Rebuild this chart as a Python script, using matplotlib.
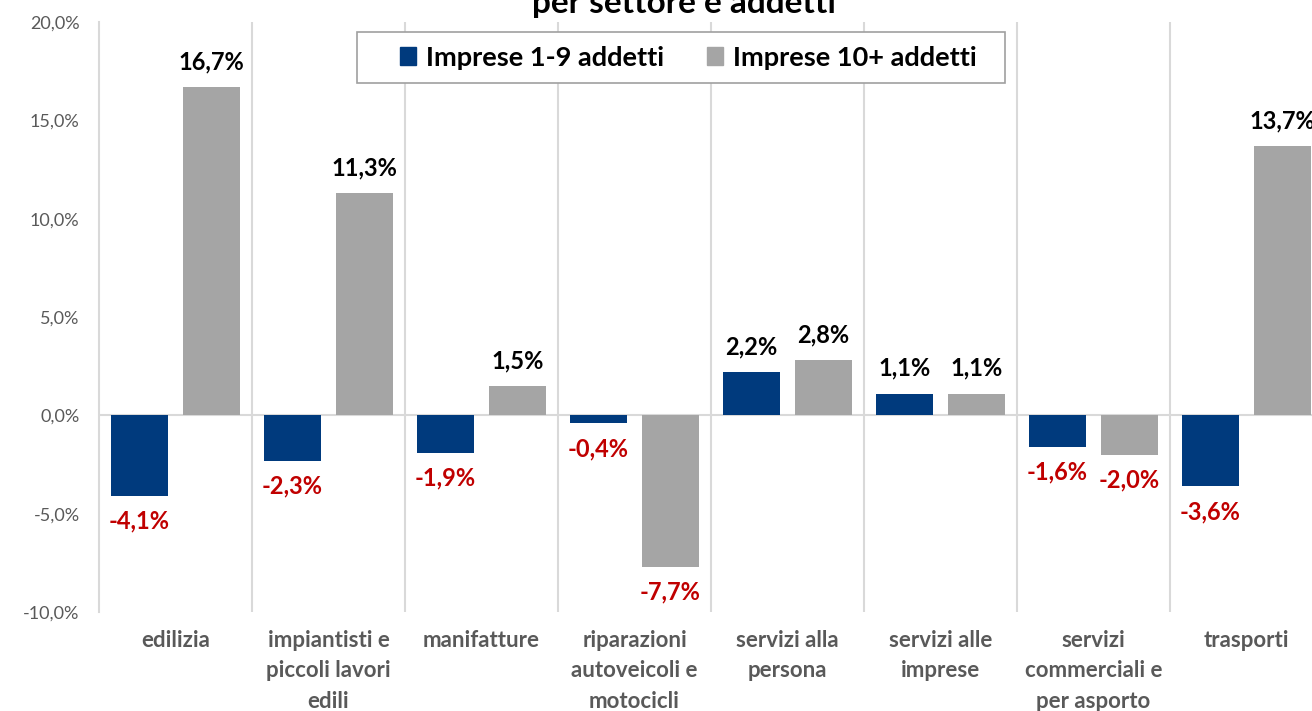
import numpy as np
import matplotlib.pyplot as plt
from matplotlib.patches import Patch, Rectangle
from matplotlib.ticker import FuncFormatter

plt.rcParams['font.family'] = ['Lato', 'DejaVu Sans']

categories = ['edilizia', 'impiantisti e\npiccoli lavori\nedili', 'manifatture',
              'riparazioni\nautoveicoli e\nmotocicli', 'servizi alla\npersona',
              'servizi alle\nimprese', 'servizi\ncommerciali e\nper asporto', 'trasporti']
small = [-4.1, -2.3, -1.9, -0.4, 2.2, 1.1, -1.6, -3.6]
large = [16.7, 11.3, 1.5, -7.7, 2.8, 1.1, -2.0, 13.7]
series_names = ['Imprese 1-9 addetti', 'Imprese 10+ addetti']
colors = ['#003A7D', '#A5A5A5']

W, H = 1312, 711
fig = plt.figure(figsize=(W / 100, H / 100), dpi=100)
ax = fig.add_axes([99 / W, 99 / H, 1224 / W, 590 / H])

x = np.arange(len(categories))
w = 0.375
off = 0.235
b1 = ax.bar(x - off, small, w, color=colors[0], zorder=3)
b2 = ax.bar(x + off, large, w, color=colors[1], zorder=3)

def fmt(v):
    return f'{v:.1f}%'.replace('.', ',')

for bars, vals in [(b1, small), (b2, large)]:
    for r, v in zip(bars, vals):
        cx = r.get_x() + r.get_width() / 2
        if v >= 0:
            ax.annotate(fmt(v), (cx, v), xytext=(0, 10), textcoords='offset points',
                        ha='center', va='bottom', fontsize=17, fontweight='bold',
                        color='black', clip_on=False)
        else:
            ax.annotate(fmt(v), (cx, v), xytext=(0, -10), textcoords='offset points',
                        ha='center', va='top', fontsize=17, fontweight='bold',
                        color='#C00000', clip_on=False)

ax.set_xlim(-0.5, len(categories) - 0.5)
ax.set_ylim(-10, 20)
ax.set_yticks(np.arange(-10, 20.1, 5))
ax.yaxis.set_major_formatter(FuncFormatter(lambda v, p: fmt(v)))
ax.set_xticks(x)
ax.set_xticklabels(categories, fontsize=16, fontweight='bold', color='#595959',
                   linespacing=1.55, va='top')
ax.tick_params(axis='x', length=0, pad=13)
ax.tick_params(axis='y', length=0, pad=14, labelsize=13, labelcolor='#595959')

for s in ['top', 'right', 'bottom']:
    ax.spines[s].set_visible(False)
ax.spines['left'].set_color('#D9D9D9')
ax.spines['left'].set_linewidth(1.5)
for xv in np.arange(0.5, len(categories), 1):
    ax.axvline(xv, color='#D9D9D9', lw=1.5, zorder=1)
ax.axhline(0, color='#D9D9D9', lw=1.5, zorder=2)

# legend box drawn separately to get Excel-like padding
ax.add_patch(Rectangle((357 / W, 1 - 83 / H), 648 / W, 51 / H,
                       transform=fig.transFigure, facecolor='white',
                       edgecolor='#A0A0A0', lw=1.2, zorder=5, clip_on=False))
handles = [Patch(color=c) for c in colors]
leg = ax.legend(handles, series_names, loc='center left',
                bbox_to_anchor=((400 - 99) / 1224, (612 - 57.5) / 590),
                borderaxespad=0, borderpad=0, ncol=2, frameon=False,
                handlelength=0.6, handleheight=0.6, handletextpad=0.35,
                columnspacing=1.6, prop={'weight': 'bold', 'size': 19.5})
leg.set_zorder(6)

fig.text(684 / W, 1 - 13 / H, 'per settore e addetti', ha='center', va='baseline',
         fontsize=24, fontweight='bold', color='black')

fig.savefig('out.png', dpi=100)
